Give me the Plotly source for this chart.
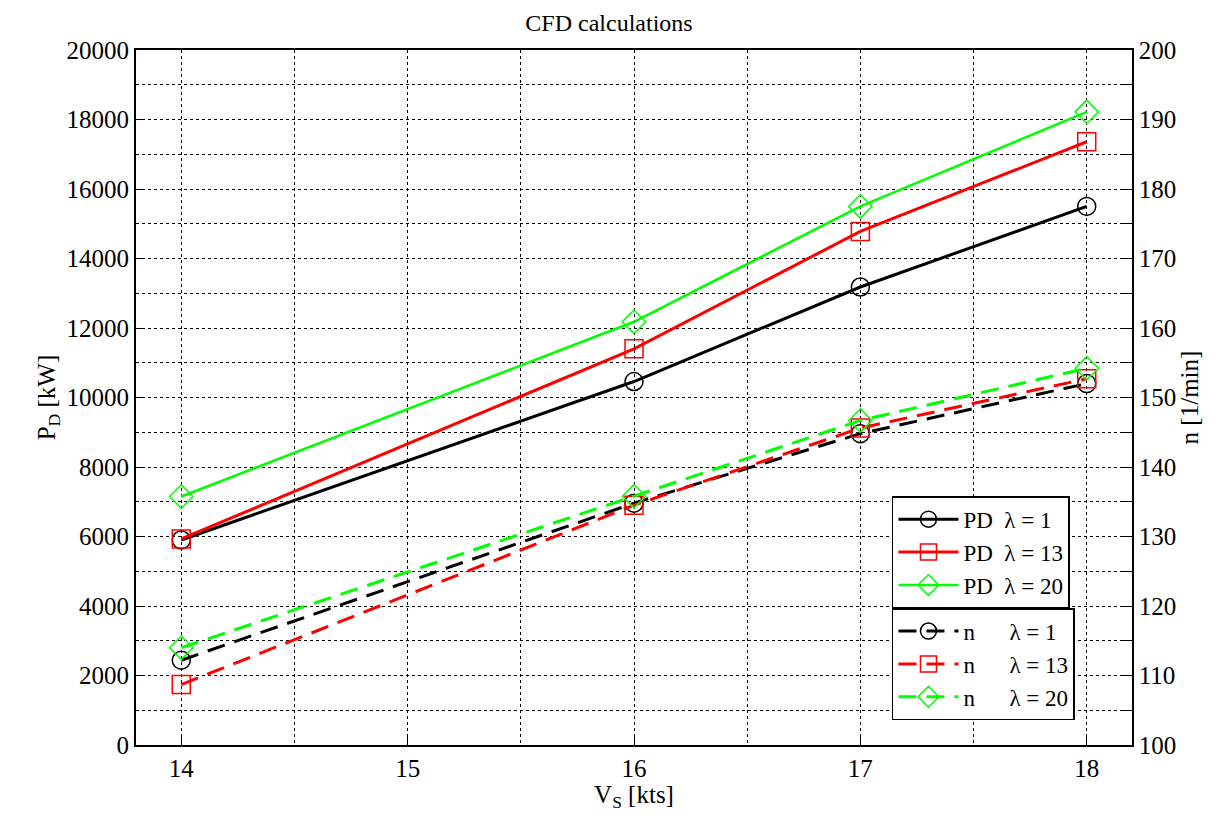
import plotly.graph_objects as go

speed = [14, 16, 17, 18]

pd_l1 = [5900, 10460, 13180, 15500]
pd_l13 = [5930, 11400, 14780, 17360]
pd_l20 = [7150, 12180, 15500, 18220]

n_l1 = [112.2, 134.8, 144.8, 152.0]
n_l13 = [108.7, 134.5, 145.6, 152.7]
n_l20 = [114.0, 135.8, 146.7, 154.2]

labels_pd = ["PD\u00a0\u00a0λ = 1", "PD\u00a0\u00a0λ = 13", "PD\u00a0\u00a0λ = 20"]
labels_n = ["n\u00a0\u00a0\u00a0\u00a0\u00a0\u00a0λ = 1", "n\u00a0\u00a0\u00a0\u00a0\u00a0\u00a0λ = 13", "n\u00a0\u00a0\u00a0\u00a0\u00a0\u00a0λ = 20"]

BLACK = "#000000"
RED = "#ff0000"
GREEN = "#00ff00"
FONT = "Liberation Serif, Times New Roman, serif"

fig = go.Figure()

pd_series = [(pd_l1, BLACK, "circle-open", 3), (pd_l13, RED, "square-open", 3), (pd_l20, GREEN, "diamond-open", 2.5)]
n_series = [(n_l1, BLACK, "circle-open"), (n_l13, RED, "square-open"), (n_l20, GREEN, "diamond-open")]

for (vals, col, sym, w), name in zip(pd_series, labels_pd):
    fig.add_trace(go.Scatter(
        x=speed, y=vals, name=name, mode="lines+markers",
        line=dict(color=col, width=w),
        marker=dict(symbol=sym, size=18, color=col, line=dict(color=col, width=1.5)),
        legend="legend", yaxis="y",
    ))

for (vals, col, sym), name in zip(n_series, labels_n):
    fig.add_trace(go.Scatter(
        x=speed, y=vals, name=name, mode="lines+markers",
        line=dict(color=col, width=3, dash="18px,10px"),
        marker=dict(symbol=sym, size=18, color=col, line=dict(color=col, width=1.5)),
        legend="legend2", yaxis="y2",
    ))

legend_common = dict(
    xanchor="left", yanchor="top", bgcolor="white",
    bordercolor="black", borderwidth=1.5,
    font=dict(family=FONT, size=23, color="black"),
    itemwidth=60, tracegroupgap=0,
)

fig.update_layout(
    width=1202, height=804,
    paper_bgcolor="white", plot_bgcolor="white",
    margin=dict(l=128, r=78, t=42, b=64),
    showlegend=True,
    title=dict(text="CFD calculations", x=0.5, xanchor="center", y=0.992, yanchor="top",
               font=dict(family=FONT, size=24, color="black")),
    font=dict(family=FONT, size=24, color="black"),
    legend=dict(x=0.759, y=0.358, **legend_common),
    legend2=dict(x=0.759, y=0.197, **legend_common),
    xaxis=dict(
        range=[13.8, 18.2], dtick=1, tick0=14,
        showgrid=True, gridcolor="black", griddash="dot", gridwidth=1,
        minor=dict(dtick=0.5, showgrid=True, gridcolor="black", griddash="dot", gridwidth=1),
        showline=True, linecolor="black", linewidth=2, mirror=True,
        ticks="inside", ticklen=8, tickcolor="black",
        zeroline=False,
        title=dict(text="V<sub>S</sub> [kts]", font=dict(family=FONT, size=25), standoff=0),
        tickfont=dict(family=FONT, size=25),
    ),
    yaxis=dict(
        range=[0, 20000], dtick=2000, tickformat="d",
        showgrid=True, gridcolor="black", griddash="dot", gridwidth=1,
        minor=dict(dtick=1000, showgrid=True, gridcolor="black", griddash="dot", gridwidth=1),
        showline=True, linecolor="black", linewidth=2,
        ticks="inside", ticklen=8, tickcolor="black",
        zeroline=False,
        title=dict(text="P<sub>D</sub> [kW]", font=dict(family=FONT, size=25), standoff=4),
        tickfont=dict(family=FONT, size=25),
    ),
    yaxis2=dict(
        range=[100, 200], dtick=10, overlaying="y", side="right",
        showgrid=False, zeroline=False,
        showline=True, linecolor="black", linewidth=1.5,
        ticks="inside", ticklen=10, tickcolor="black",
        minor=dict(dtick=5, ticks="inside", ticklen=10, tickcolor="black"),
        title=dict(text="n [1/min]", font=dict(family=FONT, size=25), standoff=4),
        tickfont=dict(family=FONT, size=25),
    ),
)

fig.write_html("out.html")
